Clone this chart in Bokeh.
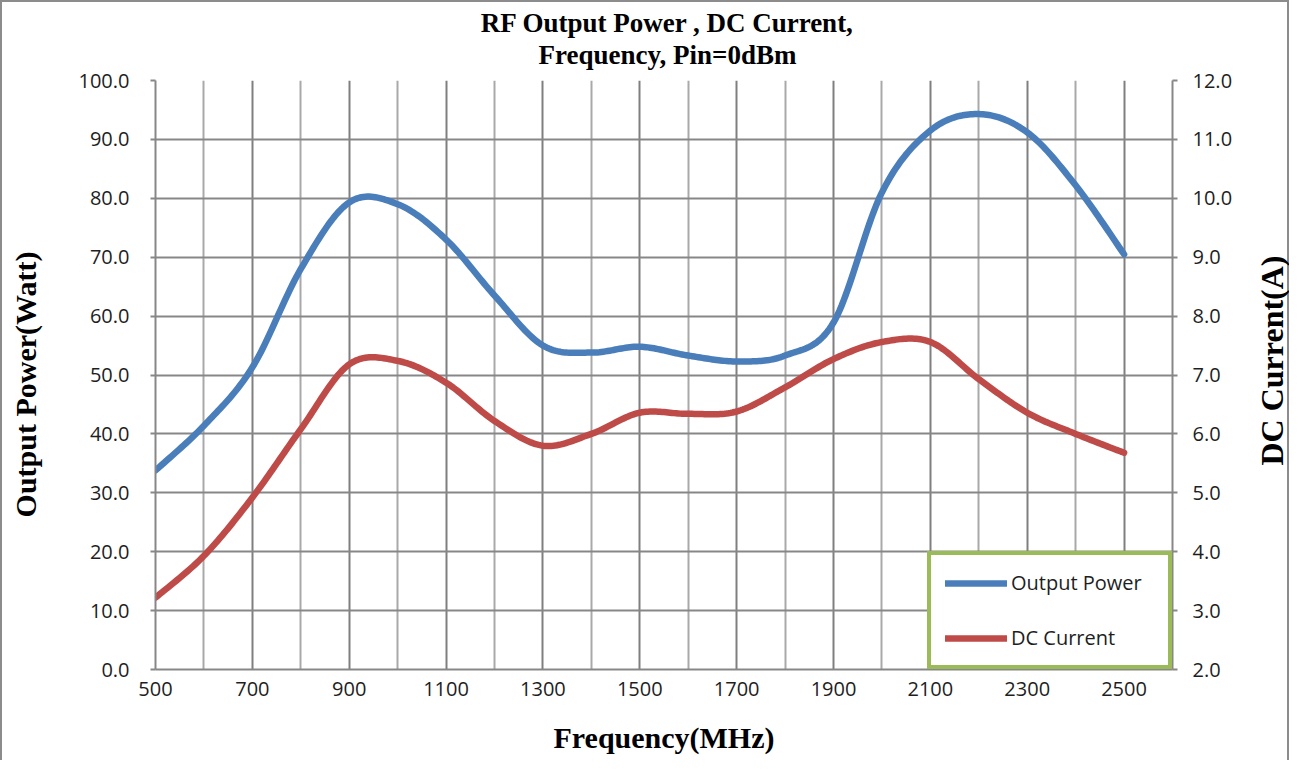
import math
import numpy as np
from bokeh.plotting import figure
from bokeh.models import (Range1d, LinearAxis, FixedTicker, Legend, LegendItem,
                          NumeralTickFormatter, Label)
from bokeh.embed import file_html
from bokeh.resources import INLINE

# ---------------- data ----------------
freq_mhz = [500, 600, 700, 800, 900, 1000, 1100, 1200, 1300, 1400, 1500,
            1600, 1700, 1800, 1900, 2000, 2100, 2200, 2300, 2400, 2500]
output_power_w = [33.8, 41.4, 51.3, 68.0, 79.3, 79.0, 73.0, 63.5, 55.0, 53.8, 54.8,
                  53.3, 52.3, 53.3, 58.9, 81.0, 91.5, 94.3, 91.2, 82.2, 70.5]
dc_current_a = [3.22, 3.93, 4.92, 6.08, 7.18, 7.24, 6.87, 6.22, 5.80, 6.00, 6.36,
                6.34, 6.38, 6.79, 7.27, 7.56, 7.56, 6.93, 6.36, 6.00, 5.68]

x_tick_labels = [500, 700, 900, 1100, 1300, 1500, 1700, 1900, 2100, 2300, 2500]
x_minor = [600, 800, 1000, 1200, 1400, 1600, 1800, 2000, 2200, 2400, 2600]
left_ticks = [0, 10, 20, 30, 40, 50, 60, 70, 80, 90, 100]
right_ticks = [2, 3, 4, 5, 6, 7, 8, 9, 10, 11, 12]

TITLE_LINE1 = "RF Output Power , DC Current,"
TITLE_LINE2 = "Frequency, Pin=0dBm"
X_TITLE = "Frequency(MHz)"
LEFT_TITLE = "Output Power(Watt)"
RIGHT_TITLE = "DC Current(A)"


def smooth(xs, ys, n=24):
    """Excel-style smoothed line (Catmull-Rom / cardinal spline)."""
    x = np.asarray(xs, float)
    y = np.asarray(ys, float)
    px = np.concatenate([[x[0]], x, [x[-1]]])
    py = np.concatenate([[y[0]], y, [y[-1]]])
    outx, outy = [], []
    t = np.linspace(0, 1, n, endpoint=False)
    h00 = 2 * t**3 - 3 * t**2 + 1
    h10 = t**3 - 2 * t**2 + t
    h01 = -2 * t**3 + 3 * t**2
    h11 = t**3 - t**2
    for i in range(1, len(px) - 2):
        mx0 = (px[i + 1] - px[i - 1]) / 2
        mx1 = (px[i + 2] - px[i]) / 2
        my0 = (py[i + 1] - py[i - 1]) / 2
        my1 = (py[i + 2] - py[i]) / 2
        outx.extend(h00 * px[i] + h10 * mx0 + h01 * px[i + 1] + h11 * mx1)
        outy.extend(h00 * py[i] + h10 * my0 + h01 * py[i + 1] + h11 * my1)
    outx.append(x[-1])
    outy.append(y[-1])
    return outx, outy


GRID = "#878787"
MINOR = "#a9a9a9"
TXT = "#1e1e1e"
TICK_FONT = "Open Sans"
SERIF = "Liberation Serif"

p = figure(width=1289, height=760, output_backend="svg", toolbar_location=None,
           title=None,
           x_range=Range1d(500, 2600), y_range=Range1d(0, 100),
           min_border_left=155, min_border_right=117, min_border_top=80,
           min_border_bottom=91)
p.extra_y_ranges = {"dc": Range1d(2, 12)}
p.outline_line_color = None
p.background_fill_color = "white"
p.border_fill_color = None
p.styles = {"box-shadow": "inset 2px 2px 0 0 #8c8c8c, inset -2px 0 0 0 #8c8c8c"}

# x axis
xt = FixedTicker(ticks=x_tick_labels, minor_ticks=x_minor)
p.xaxis.ticker = xt
p.xgrid.ticker = xt
p.xaxis.axis_label = X_TITLE

# left axis
p.yaxis.ticker = FixedTicker(ticks=left_ticks)
p.ygrid.ticker = FixedTicker(ticks=left_ticks)
p.yaxis.formatter = NumeralTickFormatter(format="0.0")

# right axis
raxis = LinearAxis(y_range_name="dc", ticker=FixedTicker(ticks=right_ticks),
                   formatter=NumeralTickFormatter(format="0.0"))
p.add_layout(raxis, "right")

for ax in [p.xaxis[0], p.yaxis[0], raxis]:
    ax.axis_line_color = GRID
    ax.axis_line_width = 2
    ax.major_tick_line_color = GRID
    ax.major_tick_line_width = 2
    ax.major_tick_in = 0
    ax.major_tick_out = 5
    ax.minor_tick_line_color = None
    ax.major_label_text_font = TICK_FONT
    ax.major_label_text_font_size = "20px"
    ax.major_label_text_color = TXT
    ax.axis_label_text_font = SERIF
    ax.axis_label_text_font_style = "bold"
    ax.axis_label_text_font_size = "30px"
    ax.axis_label_text_color = "black"

p.xaxis.major_tick_out = 0
p.xaxis.major_label_standoff = 8
p.xaxis.axis_label_standoff = 22
p.yaxis.major_label_standoff = 21
raxis.major_label_standoff = 15

p.xgrid.grid_line_color = "#7f7f7f"
p.xgrid.grid_line_width = 2
p.xgrid.minor_grid_line_color = MINOR
p.xgrid.minor_grid_line_width = 2
p.ygrid.grid_line_color = GRID
p.ygrid.grid_line_width = 2


# texts placed in side panels (canvas px, origin top-left)
def add_text(txt, x, y, size, side, angle=0.0, baseline="alphabetic"):
    p.add_layout(Label(text=txt, x=x, y=y, x_units="canvas", y_units="canvas",
                       angle=angle, text_align="center", text_baseline=baseline,
                       text_font=SERIF, text_font_style="bold",
                       text_font_size=size, text_color="black"), side)

add_text(TITLE_LINE1, 667, 22, "27px", "above")
add_text(TITLE_LINE2, 667, 54, "27px", "above")
add_text(LEFT_TITLE, 25, 384, "30px", "left", angle=math.pi / 2,
         baseline="middle")
add_text(RIGHT_TITLE, 1271, 360, "32px", "right", angle=math.pi / 2,
         baseline="middle")

# series
bx, by = smooth(freq_mhz, output_power_w)
rx, ry = smooth(freq_mhz, dc_current_a)
r_pow = p.line(bx, by, line_color="#4a7ebb", line_width=6.5, line_cap="round",
               line_join="round")
r_dc = p.line(rx, ry, line_color="#be4b48", line_width=6.5, line_cap="round",
              line_join="round", y_range_name="dc")

legend = Legend(items=[LegendItem(label="Output Power", renderers=[r_pow]),
                       LegendItem(label="DC Current", renderers=[r_dc])],
                location=(772, 0), orientation="vertical")
legend.border_line_color = "#9bbb59"
legend.border_line_alpha = 1.0
legend.border_line_width = 4
legend.background_fill_color = "white"
legend.background_fill_alpha = 1
legend.padding = 14
legend.margin = 0
legend.spacing = 28
legend.glyph_width = 62
legend.glyph_height = 20
legend.label_height = 20
legend.label_width = 143
legend.label_standoff = 4
legend.label_text_font = TICK_FONT
legend.label_text_font_size = "20px"
legend.label_text_color = TXT
p.add_layout(legend, "center")

open("out.html", "w").write(file_html(p, INLINE))
